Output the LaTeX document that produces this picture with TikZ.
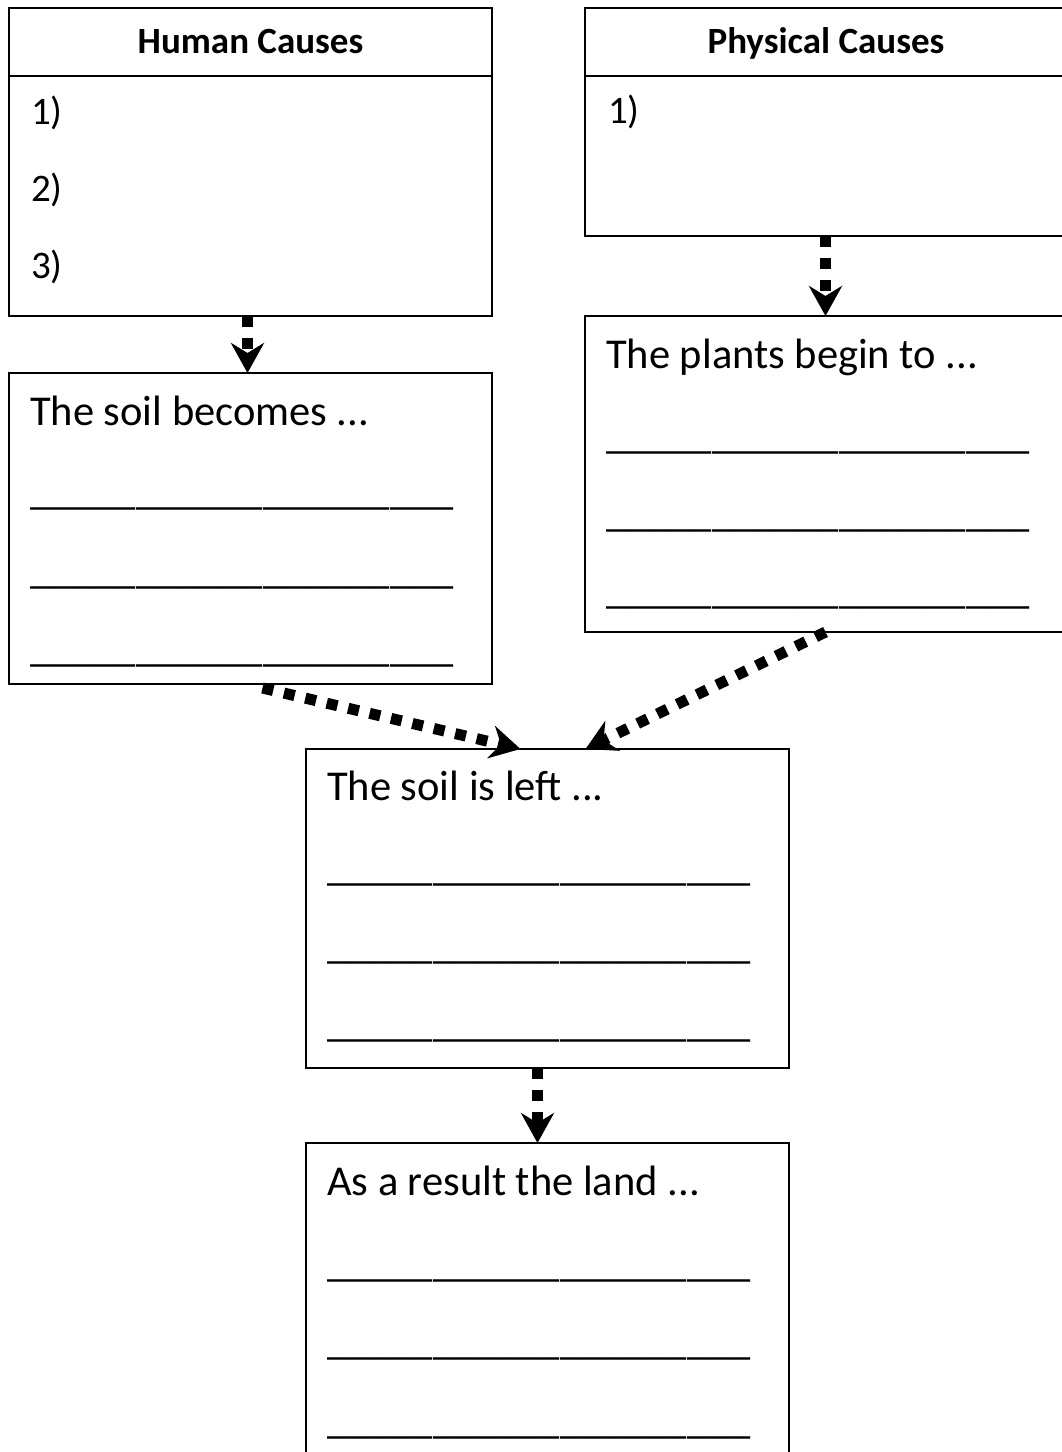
\documentclass[tikz,border=0pt]{standalone}
\usepackage{fontspec}
\setmainfont{Carlito}
\usetikzlibrary{arrows.meta,calc}
\tikzset{
  box/.style={draw=black, line width=1.6pt, rectangle, anchor=north west, inner sep=0pt, outer sep=0pt},
  head/.style={anchor=base, inner sep=0pt, font=\fontsize{37}{44}\selectfont\bfseries},
  item/.style={anchor=base west, inner sep=0pt, font=\fontsize{39}{46}\selectfont},
  body/.style={anchor=base west, inner sep=0pt, font=\fontsize{42.5}{51}\selectfont},
  blank/.style={anchor=base west, inner sep=0pt, font=\fontsize{42.5}{51}\selectfont},
  flow/.style={line width=11pt, dash pattern=on 11pt off 11pt,
    -{Stealth[length=30pt,width=33pt,inset=10pt]}}
}
\newcommand{\blankline}{\_\_\_\_\_\_\_\_\_\_\_\_\_\_\_\_\_\_\_\_}
\begin{document}
\begin{tikzpicture}[x=1pt,y=-1pt]
\useasboundingbox (0,0) rectangle (1062,1452);
\clip (0,0) rectangle (1062,1452);
\fill[white] (0,0) rectangle (1062,1452);
% Human causes
\node[box, minimum width=483pt, minimum height=68pt] (hch) at (9,8) {};
\node[box, minimum width=483pt, minimum height=240pt] (hcb) at (9,76) {};
\node[head] (hct) at (250.5,53) {Human Causes};
\node[item] (hc1) at (31,124) {1)};
\node[item] (hc2) at (31,201) {2)};
\node[item] (hc3) at (31,278) {3)};
% Physical causes
\node[box, minimum width=481pt, minimum height=68pt] (pch) at (585,8) {};
\node[box, minimum width=481pt, minimum height=160pt] (pcb) at (585,76) {};
\node[head] (pct) at (826,53) {Physical Causes};
\node[item] (pc1) at (608,123) {1)};
% Soil becomes
\node[box, minimum width=483pt, minimum height=311pt] (soil) at (9,373) {};
\node[body] (soilt) at (30,425) {The soil becomes ...};
\node[blank] (soil1) at (30,504) {\blankline};
\node[blank] (soil2) at (30,583) {\blankline};
\node[blank] (soil3) at (30,661) {\blankline};
% Plants begin
\node[box, minimum width=481pt, minimum height=316pt] (plants) at (585,316) {};
\node[body] (plantst) at (606,368) {The plants begin to ...};
\node[blank] (plants1) at (606,448) {\blankline};
\node[blank] (plants2) at (606,526) {\blankline};
\node[blank] (plants3) at (606,603) {\blankline};
% Soil is left
\node[box, minimum width=483pt, minimum height=319pt] (left) at (306,749) {};
\node[body] (leftt) at (327,800) {The soil is left ...};
\node[blank] (left1) at (327,880) {\blankline};
\node[blank] (left2) at (327,958) {\blankline};
\node[blank] (left3) at (327,1036) {\blankline};
% Land
\node[box, minimum width=483pt, minimum height=330pt] (land) at (306,1143) {};
\node[body] (landt) at (327,1195) {As a result the land ...};
\node[blank] (land1) at (327,1276) {\blankline};
\node[blank] (land2) at (327,1354) {\blankline};
\node[blank] (land3) at (327,1433) {\blankline};
% Connectors
\draw[flow] ($(hcb.south)+(-3,0)$) -- ($(soil.north)+(-3,0)$);
\draw[flow] (pcb.south) -- (plants.north);
\draw[flow] ($(soil.south)+(12,4)$) -- ($(left.north)+(-27,0)$);
\draw[flow] (plants.south) -- ($(left.north)+(38,0)$);
\draw[flow] ($(left.south)+(-10,0)$) -- ($(land.north)+(-10,0)$);
\end{tikzpicture}
\end{document}
